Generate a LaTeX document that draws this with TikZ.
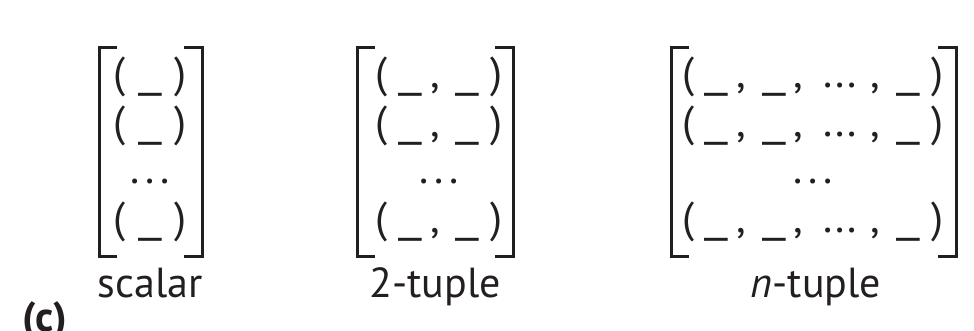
\documentclass[tikz,border=0pt]{standalone}
\usepackage{fontspec}
\usepackage{graphicx}
\setmainfont{PT Sans}
\definecolor{ink}{HTML}{231F20}
\newcommand{\gp}[1]{\hspace{#1pt}}
\newcommand{\us}{\scalebox{1.35}[1]{\_}}
\newcommand{\cm}{,}
\begin{document}
\begin{tikzpicture}[x=1pt,y=-1pt,
  txt/.style={inner sep=0pt,anchor=base,text=ink,font=\fontsize{43}{50}\selectfont},
  lbl/.style={inner sep=0pt,anchor=base,text=ink,font=\fontsize{42}{50}\selectfont},
  brk/.style={draw=ink,line width=3pt}]
\useasboundingbox (0,0) rectangle (974,331);
% scalar
\draw[brk] (117,48) -- (99,48) -- (99,256) -- (117,256);
\draw[brk] (184,48) -- (202,48) -- (202,256) -- (184,256);
\node[txt] (s1) at (150,88) {(\gp{13}\us\gp{13})};
\node[txt] (s2) at (150,137) {(\gp{13}\us\gp{13})};
\node[txt] (s3) at (150,184) {.\gp{6}.\gp{6}.};
\node[txt] (s4) at (150,233) {(\gp{13}\us\gp{13})};
\node[lbl] (sl) at (150,297) {scalar};
% 2-tuple
\draw[brk] (375,48) -- (357,48) -- (357,256) -- (375,256);
\draw[brk] (495,48) -- (513,48) -- (513,256) -- (495,256);
\node[txt] (t1) at (439,88) {(\gp{11}\us\gp{8}\cm\gp{16}\us\gp{11})};
\node[txt] (t2) at (439,137) {(\gp{11}\us\gp{8}\cm\gp{16}\us\gp{11})};
\node[txt] (t3) at (439,184) {.\gp{6}.\gp{6}.};
\node[txt] (t4) at (439,233) {(\gp{11}\us\gp{8}\cm\gp{16}\us\gp{11})};
\node[lbl] (tl) at (435,297) {2-tuple};
% n-tuple
\draw[brk] (689,48) -- (671,48) -- (671,256) -- (689,256);
\draw[brk] (938,48) -- (956,48) -- (956,256) -- (938,256);
\node[txt] (n1) at (813,88) {(\gp{10}\us\gp{8}\cm\gp{16}\us\gp{8}\cm\gp{20}...\gp{14}\cm\gp{16}\us\gp{11})};
\node[txt] (n2) at (813,137) {(\gp{10}\us\gp{8}\cm\gp{16}\us\gp{8}\cm\gp{20}...\gp{14}\cm\gp{16}\us\gp{11})};
\node[txt] (n3) at (813,184) {.\gp{6}.\gp{6}.};
\node[txt] (n4) at (813,233) {(\gp{10}\us\gp{8}\cm\gp{16}\us\gp{8}\cm\gp{20}...\gp{14}\cm\gp{16}\us\gp{11})};
\node[lbl] (nl) at (816,297) {\textit{n}-tuple};
% panel label
\node[lbl,anchor=base west,font=\fontsize{42}{50}\selectfont\bfseries] (pc) at (22,331) {(c)};
\end{tikzpicture}
\end{document}
